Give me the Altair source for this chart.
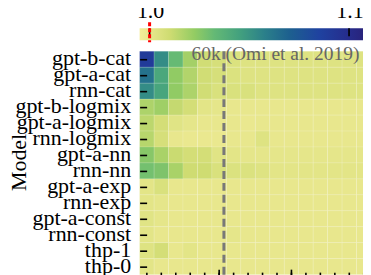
import altair as alt
import pandas as pd

# ---------------- data ----------------
models = ["gpt-b-cat", "gpt-a-cat", "rnn-cat", "gpt-b-logmix", "gpt-a-logmix",
          "rnn-logmix", "gpt-a-nn", "rnn-nn", "gpt-a-exp", "rnn-exp",
          "gpt-a-const", "rnn-const", "thp-1", "thp-0"]
columns = list(range(16))

gpt_b_cat    = [1.090, 1.053, 1.032, 1.019, 1.009, 1.007, 1.005, 1.004, 1.004, 1.004, 1.004, 1.004, 1.004, 1.004, 1.004, 1.004]
gpt_a_cat    = [1.063, 1.042, 1.023, 1.016, 1.009, 1.007, 1.005, 1.004, 1.004, 1.004, 1.004, 1.004, 1.004, 1.004, 1.004, 1.004]
rnn_cat      = [1.053, 1.043, 1.023, 1.017, 1.009, 1.006, 1.006, 1.006, 1.004, 1.004, 1.004, 1.004, 1.004, 1.004, 1.004, 1.004]
gpt_b_logmix = [1.017, 1.020, 1.012, 1.008, 1.002, 1.001, 1.000, 1.000, 1.000, 1.000, 1.000, 1.000, 1.000, 1.000, 1.000, 1.000]
gpt_a_logmix = [1.014, 1.008, 1.003, 1.001, 1.000, 1.000, 1.000, 0.999, 1.000, 1.000, 1.000, 1.000, 1.000, 1.000, 1.000, 1.000]
rnn_logmix   = [1.015, 1.007, 1.000, 0.999, 0.999, 0.999, 1.000, 1.000, 1.004, 1.000, 1.000, 1.000, 1.000, 1.000, 1.000, 1.000]
gpt_a_nn     = [1.025, 1.018, 1.011, 1.008, 1.008, 1.003, 1.002, 1.001, 1.001, 1.001, 1.001, 1.001, 1.001, 1.001, 1.001, 1.001]
rnn_nn       = [1.029, 1.027, 1.018, 1.010, 1.010, 1.006, 1.005, 1.005, 1.004, 1.002, 1.002, 1.002, 1.002, 1.002, 1.002, 1.002]
gpt_a_exp    = [1.002, 1.006, 1.000, 1.000, 1.000, 1.000, 1.000, 1.000, 1.000, 1.000, 1.000, 1.000, 1.000, 1.000, 1.000, 1.000]
rnn_exp      = [1.002, 1.001, 1.000, 1.000, 1.000, 1.000, 1.000, 1.000, 1.000, 1.000, 1.000, 1.000, 1.000, 1.000, 1.000, 1.000]
gpt_a_const  = [1.003, 1.001, 1.000, 1.000, 1.000, 1.000, 1.000, 1.000, 1.000, 1.000, 1.000, 1.000, 1.000, 1.000, 1.000, 1.000]
rnn_const    = [1.002, 1.000, 1.000, 1.000, 1.000, 1.000, 1.001, 1.000, 1.000, 1.000, 1.000, 1.000, 1.000, 1.000, 1.000, 1.000]
thp_1        = [1.004, 1.008, 1.000, 1.002, 1.000, 1.000, 1.000, 1.000, 1.000, 1.000, 1.000, 1.000, 1.000, 1.000, 1.000, 1.000]
thp_0        = [1.002, 1.000, 1.000, 1.000, 1.000, 1.000, 1.000, 1.000, 1.000, 1.000, 1.000, 1.000, 1.000, 1.000, 1.000, 1.000]

rows = [gpt_b_cat, gpt_a_cat, rnn_cat, gpt_b_logmix, gpt_a_logmix, rnn_logmix,
        gpt_a_nn, rnn_nn, gpt_a_exp, rnn_exp, gpt_a_const, rnn_const, thp_1, thp_0]

major_cols = [5, 10]
omi_pos = 5.33
omi_label = "60k (Omi et al. 2019)"

cbar_min, cbar_max = 0.995, 1.111
cbar_ticks = [1.0, 1.1]
cbar_labels = ["1.0", "1.1"]
ref_value = 1.0
stop_fracs = [0, 0.129, 0.237, 0.323, 0.431, 0.539, 0.647, 0.776, 0.905, 1.0]
stop_colors = ["#f4ed9a", "#cfdc72", "#93cc63", "#64b975", "#43a17e",
               "#2b808a", "#1d608f", "#1f42a0", "#262c8c", "#2a1e72"]

# ---------------- build ----------------
recs = []
for m, vals in zip(models, rows):
    for c, v in zip(columns, vals):
        recs.append({"model": m, "x0": c - 0.5, "x1": c + 0.5, "value": v})
df = pd.DataFrame(recs)

color_domain = [cbar_min + f * (cbar_max - cbar_min) for f in stop_fracs]
FONT = "Liberation Serif"
W, H = 232, 224

xscale = alt.Scale(domain=[-0.5, 15.5], nice=False, zero=False)

rect = alt.Chart(df).mark_rect(stroke="white", strokeWidth=0.5, strokeOpacity=0.25).encode(
    x=alt.X("x0:Q", scale=xscale, axis=None),
    x2="x1:Q",
    y=alt.Y("model:N", sort=models, scale=alt.Scale(paddingInner=0, paddingOuter=0),
            axis=alt.Axis(orient="left", title="Model", tickSize=7, offset=-7, zindex=1,
                          domain=False, labelPadding=9, labelBaseline="alphabetic",
                          labelOffset=6, tickColor="black", tickWidth=1.6,
                          titleX=-121, titleY=111, titleAngle=270, titleAlign="center",
                          titleBaseline="alphabetic")),
    color=alt.Color("value:Q",
                    scale=alt.Scale(domain=color_domain, range=stop_colors, interpolate="rgb"),
                    legend=None),
)

minor_ticks = alt.Chart(pd.DataFrame({"col": columns})).mark_rule(
    color="black", strokeWidth=1.6).encode(
    x=alt.X("col:Q", scale=xscale, axis=None),
    y=alt.value(H - 2), y2=alt.value(H + 3),
)
long_ticks = alt.Chart(pd.DataFrame({"major": major_cols})).mark_rule(
    color="black", strokeWidth=1.6).encode(
    x=alt.X("major:Q", scale=xscale, axis=None),
    y=alt.value(H - 5), y2=alt.value(H + 3),
)

omi_df = pd.DataFrame({"pos": [omi_pos], "label": [omi_label]})
omi_line = alt.Chart(omi_df).mark_rule(color="#787878", strokeWidth=3, strokeDash=[8, 4]).encode(
    x=alt.X("pos:Q", scale=xscale, axis=None),
)
omi_text = alt.Chart(omi_df).mark_text(
    align="left", baseline="alphabetic", dx=-32.5, fontSize=19.5, font=FONT, color="#666666"
).encode(
    x=alt.X("pos:Q", scale=xscale, axis=None),
    y=alt.value(9),
    text="label:N",
)

heat = alt.layer(rect, minor_ticks, long_ticks, omi_line, omi_text).properties(width=W, height=H)

# colorbar
gradient = alt.LinearGradient(
    gradient="linear",
    stops=[alt.GradientStop(color=c, offset=f) for c, f in zip(stop_colors, stop_fracs)],
    x1=0, x2=1, y1=0, y2=0,
)
cscale = alt.Scale(domain=[cbar_min, cbar_max], nice=False, zero=False)
cbar = alt.Chart(pd.DataFrame({"lo": [cbar_min], "hi": [cbar_max]})).mark_rect(fill=gradient).encode(
    x=alt.X("lo:Q", scale=cscale, axis=None),
    x2="hi:Q",
)
tick_df = pd.DataFrame({"t": cbar_ticks, "label": cbar_labels})
cbar_tick_marks = alt.Chart(tick_df).mark_rule(color="black", strokeWidth=1.6).encode(
    x=alt.X("t:Q", scale=cscale, axis=None),
    y=alt.value(0), y2=alt.value(8),
)
cbar_tick_text = alt.Chart(tick_df).mark_text(
    align="center", baseline="alphabetic", dx=1, fontSize=22, font=FONT, color="black"
).encode(
    x=alt.X("t:Q", scale=cscale, axis=None),
    y=alt.value(-10),
    text="label:N",
)
ref_line = alt.Chart(pd.DataFrame({"ref": [ref_value]})).mark_rule(
    color="red", strokeWidth=3, strokeDash=[4, 2]).encode(
    x=alt.X("ref:Q", scale=cscale, axis=None),
    y=alt.value(-6), y2=alt.value(14),
)
cbar_chart = alt.layer(cbar, cbar_tick_marks, ref_line, cbar_tick_text).properties(width=W, height=12)

chart = alt.vconcat(cbar_chart, heat, spacing=11, bounds="flush").resolve_scale(
    x="independent", color="independent"
).properties(
    padding={"left": 0, "top": -8, "right": -9, "bottom": 0}
).configure_view(stroke=None).configure_axis(
    labelFont=FONT, titleFont=FONT, labelFontSize=22, titleFontSize=22,
    labelColor="black", titleColor="black", titleFontWeight="normal",
)

chart.save("out.html", embed_options={"renderer": "svg", "actions": False})
